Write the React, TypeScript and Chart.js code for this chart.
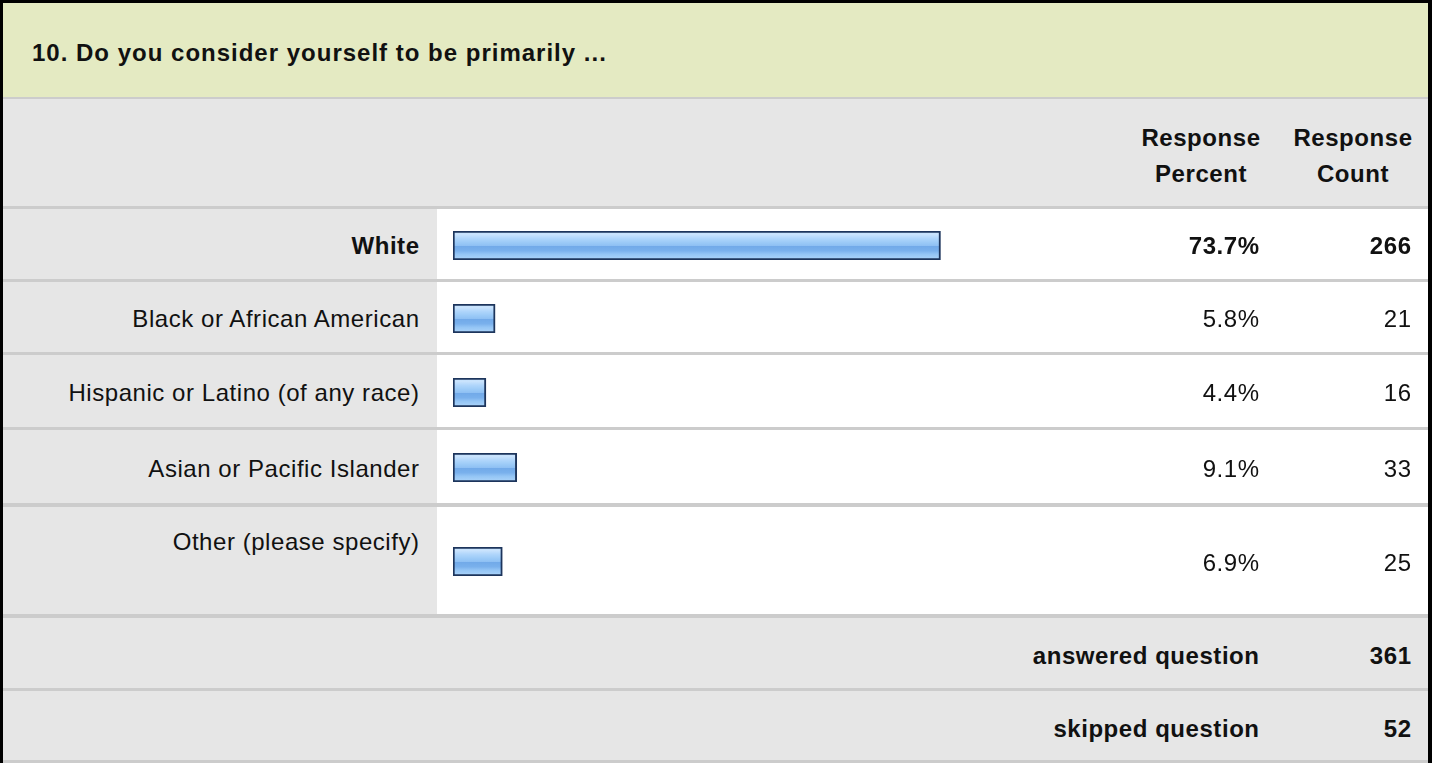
import React, { useEffect, useRef } from "react";
import { Chart, registerables } from "chart.js";

Chart.register(...registerables);

const title = "10. Do you consider yourself to be primarily ...";
const headerPercent = ["Response", "Percent"];
const headerCount = ["Response", "Count"];
const categories = [
  "White",
  "Black or African American",
  "Hispanic or Latino (of any race)",
  "Asian or Pacific Islander",
  "Other (please specify)",
];
const percents = [73.7, 5.8, 4.4, 9.1, 6.9];
const counts = [266, 21, 16, 33, 25];
const answeredLabel = "answered question";
const skippedLabel = "skipped question";
const answered = 361;
const skipped = 52;

// layout (pixels)
const ROW_TOPS = [209, 282, 355, 430, 507];
const ROW_HEIGHTS = [70, 70, 72, 73, 107];
const LINE_AFTER = [3, 3, 3, 4, 4];
const FONT = '"Liberation Sans", Arial, Helvetica, sans-serif';
const FS = 24;
const LS = 0.55;
const LS_TITLE = 1.0;
const GRAY = "#e6e6e6";
const LINE = "#cccccc";
const GREEN = "#e4eac2";
const TEXT = "#111111";
const BAR_LEFT = 453;
const BAR_W = 660;
const BAR_H = 29;
const X_MIN = -0.62;
const X_MAX = 100;

function BarChart({ value, label }: { value: number; label: string }) {
  const ref = useRef<HTMLCanvasElement | null>(null);
  useEffect(() => {
    if (!ref.current) return;
    const chart = new Chart(ref.current, {
      type: "bar",
      data: {
        labels: [label],
        datasets: [
          {
            data: [value],
            base: X_MIN,
            barPercentage: 1,
            categoryPercentage: 1,
            borderWidth: 2,
            borderColor: "#1d355c",
            borderSkipped: false,
            backgroundColor: (ctx: any) => {
              const ch = ctx.chart;
              const area = ch.chartArea;
              if (!area) return "#93c3f4";
              const g = ch.ctx.createLinearGradient(0, area.top, 0, area.bottom);
              g.addColorStop(0, "#c4e0fc");
              g.addColorStop(0.12, "#c9e3fd");
              g.addColorStop(0.25, "#b0d6fb");
              g.addColorStop(0.4, "#9bcaf7");
              g.addColorStop(0.52, "#8dbff3");
              g.addColorStop(0.53, "#72aae9");
              g.addColorStop(0.68, "#79b0ec");
              g.addColorStop(0.8, "#94c5f5");
              g.addColorStop(1, "#aed5f9");
              return g;
            },
          } as any,
        ],
      },
      options: {
        indexAxis: "y",
        animation: false,
        responsive: false,
        devicePixelRatio: 1,
        layout: { padding: 0 },
        plugins: { legend: { display: false }, tooltip: { enabled: false } },
        scales: {
          x: { type: "linear", min: X_MIN, max: X_MAX, display: false },
          y: { type: "category", display: false },
        },
      },
    });
    return () => chart.destroy();
  }, [value, label]);
  return (
    <canvas
      ref={ref}
      width={BAR_W}
      height={BAR_H}
      style={{ display: "block", width: BAR_W, height: BAR_H }}
    />
  );
}

const abs = (l: number, t: number, w: number, h: number, extra: any = {}) => ({
  position: "absolute" as const,
  left: l,
  top: t,
  width: w,
  height: h,
  ...extra,
});

function Cell({
  left,
  top,
  width,
  height,
  align,
  bold,
  children,
  valign = "center",
  padTop = 0,
  shift = 0,
  ls = LS,
}: any) {
  return (
    <div
      style={abs(left, top + shift, width, height, {
        display: "flex",
        alignItems: valign === "top" ? "flex-start" : "center",
        justifyContent: align === "right" ? "flex-end" : align === "center" ? "center" : "flex-start",
        paddingTop: padTop,
        boxSizing: "border-box",
        fontWeight: bold ? "bold" : "normal",
        fontSize: FS,
        letterSpacing: ls,
        color: TEXT,
        whiteSpace: "nowrap",
        textAlign: align,
      })}
    >
      <span style={{ marginRight: align === "right" ? -ls : 0 }}>{children}</span>
    </div>
  );
}

export default function App() {
  const ansTop = 618;
  const skpTop = 691;
  const headStyle = {
    fontWeight: "bold",
    fontSize: FS,
    letterSpacing: LS,
    color: TEXT,
    textAlign: "center",
    lineHeight: "36px",
  };
  return (
    <div
      style={{
        position: "absolute",
        left: 0,
        top: 0,
        width: 1432,
        height: 763,
        overflow: "hidden",
        background: "#ffffff",
        fontFamily: FONT,
      }}
    >
      {/* outer borders */}
      <div style={abs(0, 0, 1432, 3, { background: "#000" })} />
      <div style={abs(0, 0, 3, 763, { background: "#000" })} />
      <div style={abs(1428, 0, 4, 763, { background: "#000" })} />

      {/* title bar */}
      <div style={abs(3, 3, 1425, 94, { background: GREEN })} />
      <div style={abs(3, 97, 1425, 2, { background: LINE })} />
      <Cell left={32} top={3} width={1000} height={94} align="left" bold shift={3} ls={LS_TITLE}>
        {title}
      </Cell>

      {/* column header */}
      <div style={abs(3, 99, 1425, 107, { background: GRAY })} />
      <div style={abs(3, 206, 1425, 3, { background: LINE })} />
      <div style={abs(1101, 120, 200, 80, headStyle)}>
        {headerPercent[0]}
        <br />
        {headerPercent[1]}
      </div>
      <div style={abs(1253, 120, 200, 80, headStyle)}>
        {headerCount[0]}
        <br />
        {headerCount[1]}
      </div>

      {/* data rows */}
      {categories.map((cat, i) => {
        const top = ROW_TOPS[i];
        const h = ROW_HEIGHTS[i];
        const bold = i === 0;
        const isOther = i === categories.length - 1;
        const barTop = Math.round(top + h / 2 + 1 - BAR_H / 2);
        return (
          <React.Fragment key={cat}>
            <div style={abs(3, top, 434, h, { background: GRAY })} />
            <div style={abs(437, top, 991, h, { background: "#ffffff" })} />
            <div style={abs(3, top + h, 1425, LINE_AFTER[i], { background: LINE })} />
            <Cell
              left={3}
              top={top}
              width={416}
              height={h}
              align="right"
              bold={bold}
              valign={isOther ? "top" : "center"}
              padTop={isOther ? 21 : 0}
              shift={isOther ? 0 : 2}
            >
              {cat}
            </Cell>
            <div style={abs(BAR_LEFT, barTop, BAR_W, BAR_H)}>
              <BarChart value={percents[i]} label={cat} />
            </div>
            <Cell left={1050} top={top} width={209} height={h} align="right" bold={bold} shift={2}>
              {percents[i].toFixed(1) + "%"}
            </Cell>
            <Cell left={1270} top={top} width={141} height={h} align="right" bold={bold} shift={2}>
              {String(counts[i])}
            </Cell>
          </React.Fragment>
        );
      })}

      {/* answered / skipped */}
      <div style={abs(3, ansTop, 1425, 70, { background: GRAY })} />
      <div style={abs(3, 688, 1425, 3, { background: LINE })} />
      <Cell left={700} top={ansTop} width={559} height={70} align="right" bold shift={3}>
        {answeredLabel}
      </Cell>
      <Cell left={1270} top={ansTop} width={141} height={70} align="right" bold shift={3}>
        {String(answered)}
      </Cell>
      <div style={abs(3, skpTop, 1425, 69, { background: GRAY })} />
      <div style={abs(3, 760, 1425, 3, { background: LINE })} />
      <Cell left={700} top={skpTop} width={559} height={69} align="right" bold shift={3}>
        {skippedLabel}
      </Cell>
      <Cell left={1270} top={skpTop} width={141} height={69} align="right" bold shift={3}>
        {String(skipped)}
      </Cell>
    </div>
  );
}
